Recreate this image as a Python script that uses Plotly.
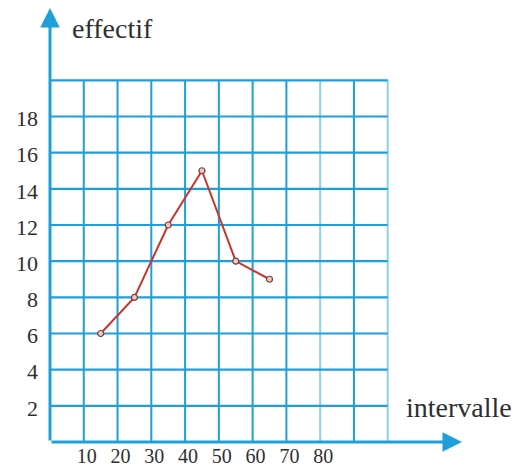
import plotly.graph_objects as go

# Data
x_values = [15, 25, 35, 45, 55, 65]
y_values = [6, 8, 12, 15, 10, 9]
x_tick_vals = [10, 20, 30, 40, 50, 60, 70, 80]
x_tick_text = ["10", "20", "30", "40", "50", "60", "70", "80"]
y_tick_vals = [2, 4, 6, 8, 10, 12, 14, 16, 18]
y_tick_text = ["2", "4", "6", "8", "10", "12", "14", "16", "18"]
grid_x = [0, 10, 20, 30, 40, 50, 60, 70, 80, 90, 100]
grid_y = [0, 2, 4, 6, 8, 10, 12, 14, 16, 18, 20]
y_label = "effectif"
x_label = "intervalle"

BLUE = "#1E9FDA"
LIGHT = "#8FD0EC"
FONT = "Times New Roman, Liberation Serif, DejaVu Serif, serif"
TXT = "#2f2f2f"

fig = go.Figure()
fig.add_trace(go.Scatter(
    x=x_values, y=y_values, mode="lines+markers",
    line=dict(color="#C8342C", width=2),
    marker=dict(symbol="circle", size=6, color="#F0C8C0",
                line=dict(color="#7A3A3A", width=1.2)),
    showlegend=False, cliponaxis=False,
))

shapes = []
gx_max = grid_x[-1]
gy_max = grid_y[-1]
for gx in grid_x[1:]:
    col = LIGHT if gx in (80, 100) else BLUE
    shapes.append(dict(type="line", xref="x", yref="y", x0=gx, x1=gx, y0=0, y1=gy_max,
                       line=dict(color=col, width=2), layer="below"))
for gy in grid_y[1:]:
    shapes.append(dict(type="line", xref="x", yref="y", x0=0, x1=gx_max, y0=gy, y1=gy,
                       line=dict(color=BLUE, width=2.2), layer="below"))

annotations = [
    dict(x=122, y=0, ax=0, ay=0, xref="x", yref="y", axref="x", ayref="y",
         showarrow=True, arrowhead=2, arrowsize=1.3, arrowwidth=3, arrowcolor=BLUE, text=""),
    dict(x=0, y=24, ax=0, ay=0, xref="x", yref="y", axref="x", ayref="y",
         showarrow=True, arrowhead=2, arrowsize=1.3, arrowwidth=3, arrowcolor=BLUE, text=""),
    dict(x=5.8, y=22.85, xref="x", yref="y", text=y_label, showarrow=False,
         xanchor="left", yanchor="middle", font=dict(family=FONT, size=28, color=TXT)),
    dict(x=104.8, y=1.9, xref="x", yref="y", text=x_label, showarrow=False,
         xanchor="left", yanchor="middle", font=dict(family=FONT, size=28, color=TXT)),
]

# page body has an 8px margin, so the figure is sized/offset to compensate
fig.update_layout(
    width=522, height=459,
    margin=dict(l=42, r=68, t=0, b=25, autoexpand=False),
    paper_bgcolor="white", plot_bgcolor="white",
    shapes=shapes, annotations=annotations,
    font=dict(family=FONT),
    xaxis=dict(range=[0, 122], showgrid=False, zeroline=False, showline=False,
               automargin=False,
               tickmode="array", tickvals=x_tick_vals, ticktext=x_tick_text,
               ticks="", ticklabelshift=3, ticklabelstandoff=0,
               tickfont=dict(family=FONT, size=20, color=TXT)),
    yaxis=dict(range=[0, 24], showgrid=False, zeroline=False, showline=False,
               automargin=False,
               tickmode="array", tickvals=y_tick_vals, ticktext=y_tick_text,
               ticks="", ticklabelstandoff=11, ticklabelshift=2,
               tickfont=dict(family=FONT, size=22, color=TXT)),
)

fig.write_html("out.html")
